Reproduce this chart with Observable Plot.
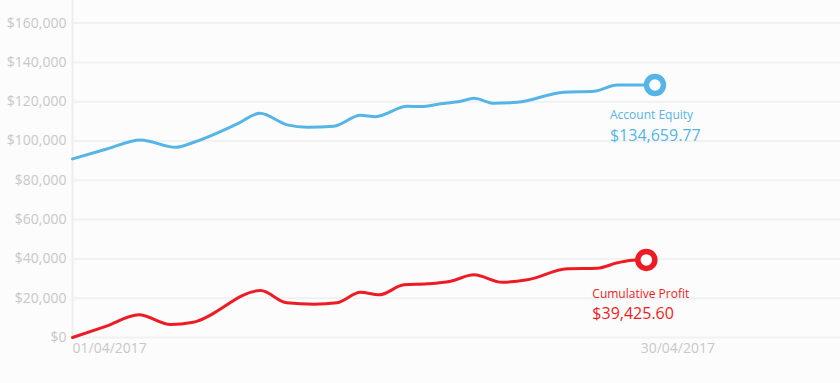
<!DOCTYPE html>
<html>
<head>
<meta charset="utf-8">
<script src="https://cdn.jsdelivr.net/npm/d3@7"></script>
<script src="https://cdn.jsdelivr.net/npm/@observablehq/plot@0.6"></script>
<style>
  html, body { margin: 0; padding: 0; background: #fcfcfc; }
  #chart { width: 840px; height: 383px; }
</style>
</head>
<body>
<div id="chart"></div>
<script>
// Day offset from 01/04/2017 and values
const equityDay   = [0, 1.7, 3.47, 5.26, 6.19, 8.41, 9.56, 10.96, 11.98, 13.34, 14.70, 15.47, 17.09, 17.77, 18.79, 19.81, 20.49, 21.51, 22.71, 25.08, 26.62, 27.81, 29.17, 29.73];
const equityValue = [90900, 95800, 100570, 96800, 99350, 108700, 114100, 108200, 107000, 107500, 113100, 112400, 117700, 117500, 118900, 120200, 121700, 119200, 119700, 124800, 125300, 128500, 128500, 128500];

const profitDay   = [0, 1.7, 3.39, 5.0, 6.16, 9.6, 10.93, 12.32, 13.51, 14.70, 15.64, 16.92, 18.11, 19.3, 20.49, 21.94, 23.21, 25.26, 26.79, 27.81, 28.75, 29.29];
const profitValue = [0, 5700, 11550, 6600, 7800, 23900, 17650, 16950, 17650, 23000, 21700, 26800, 27300, 28650, 31900, 28100, 29350, 34950, 35250, 38000, 39500, 39500];

const yTicks = [0, 20000, 40000, 60000, 80000, 100000, 120000, 140000, 160000];
const xTickDays = [0, 29];
const xTickLabels = ["01/04/2017", "30/04/2017"];

const equityName = "Account Equity";
const equityTotal = "$134,659.77";
const profitName = "Cumulative Profit";
const profitTotal = "$39,425.60";

const blue = "#56b5e5";
const red = "#ed1c24";
const gray = "#c8c8c8";

const equity = equityDay.map((d, i) => ({day: d, value: equityValue[i]}));
const profit = profitDay.map((d, i) => ({day: d, value: profitValue[i]}));
const eLast = equity[equity.length - 1];
const pLast = profit[profit.length - 1];
const xLabel = new Map(xTickDays.map((d, i) => [d, xTickLabels[i]]));
const fmt = d3.format(",");

const chart = Plot.plot({
  width: 840,
  height: 383,
  marginLeft: 72,
  marginRight: 0,
  marginTop: 0,
  marginBottom: 46,
  style: {background: "#fcfcfc", fontFamily: "'Open Sans', sans-serif", fontSize: "14px"},
  x: {type: "linear", domain: [0, 39.2]},
  y: {domain: [0, 171500]},
  marks: [
    Plot.ruleY(yTicks, {stroke: "#f1f1f1", strokeWidth: 2}),
    Plot.ruleX([0], {stroke: "#eeeeee", strokeWidth: 2}),
    Plot.axisY(yTicks, {tickSize: 0, tickPadding: 6, fontSize: 14, fill: gray, label: null, tickFormat: d => "$" + fmt(d)}),
    Plot.axisX(xTickDays, {tickSize: 0, tickPadding: 6, fontSize: 14, fill: gray, label: null, textAnchor: "start", tickFormat: d => xLabel.get(d)}),
    Plot.line(equity, {x: "day", y: "value", stroke: blue, strokeWidth: 3, curve: "monotone-x"}),
    Plot.line(profit, {x: "day", y: "value", stroke: red, strokeWidth: 3, curve: "monotone-x"}),
    Plot.dot([eLast], {x: "day", y: "value", r: 8.5, stroke: blue, strokeWidth: 5.5, fill: "#ffffff"}),
    Plot.dot([pLast], {x: "day", y: "value", r: 8.5, stroke: red, strokeWidth: 5.5, fill: "#ffffff"}),
    Plot.text([eLast], {x: "day", y: "value", text: () => equityName, fill: blue, fontSize: 12, textAnchor: "start", dx: -45, dy: 30}),
    Plot.text([eLast], {x: "day", y: "value", text: () => equityTotal, fill: blue, fontSize: 16, textAnchor: "start", dx: -45, dy: 51}),
    Plot.text([pLast], {x: "day", y: "value", text: () => profitName, fill: red, fontSize: 12, textAnchor: "start", dx: -54, dy: 34}),
    Plot.text([pLast], {x: "day", y: "value", text: () => profitTotal, fill: red, fontSize: 16, textAnchor: "start", dx: -54, dy: 54})
  ]
});
document.getElementById("chart").appendChild(chart);
</script>
</body>
</html>
